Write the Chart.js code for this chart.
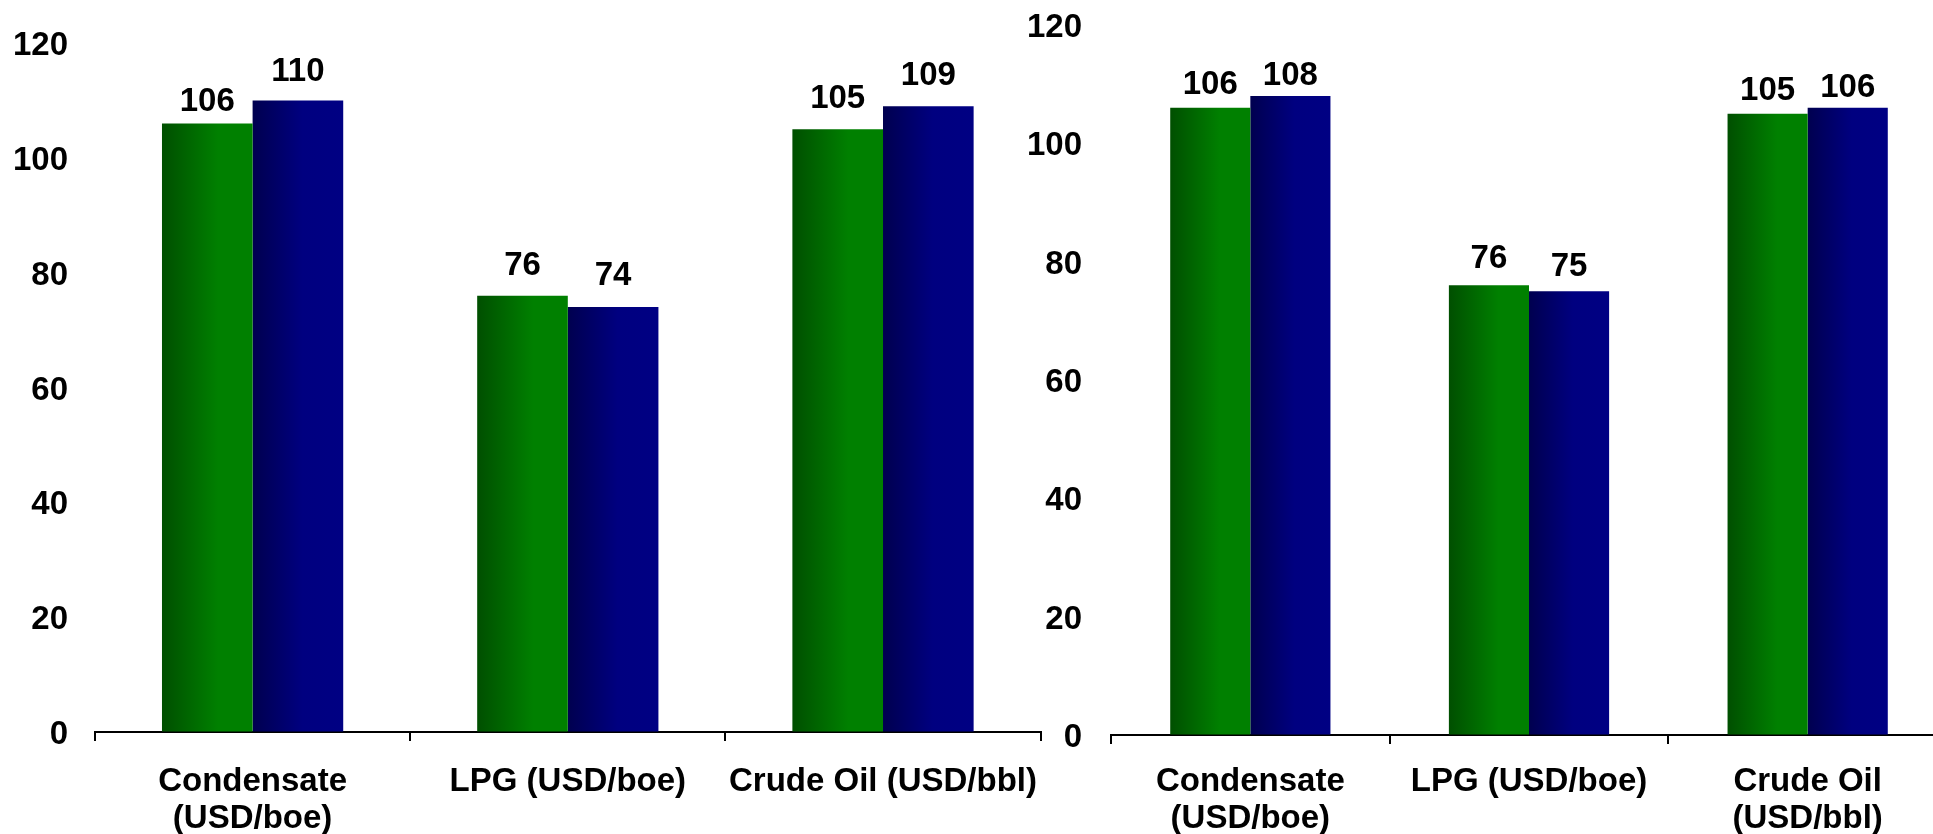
<!DOCTYPE html>
<html>
<head>
<meta charset="utf-8">
<script src="https://cdn.jsdelivr.net/npm/chart.js@4.4.1/dist/chart.umd.min.js"></script>
<style>
  html, body { margin: 0; padding: 0; background: #fff; overflow: hidden; }
  #wrap { position: relative; width: 1933px; height: 834px; overflow: hidden; }
  .box { position: absolute; top: 0; height: 834px; }
  #boxA { left: 0; width: 1060px; }
  #boxB { left: 1000px; width: 947px; }
</style>
</head>
<body>
<div id="wrap">
  <div class="box" id="boxA"><canvas id="chartA" width="1060" height="834"></canvas></div>
  <div class="box" id="boxB"><canvas id="chartB" width="947" height="834"></canvas></div>
</div>
<script>
// Price categories for each panel
const categoriesA = [['Condensate', '(USD/boe)'], 'LPG (USD/boe)', 'Crude Oil (USD/bbl)'];
const categoriesB = [['Condensate', '(USD/boe)'], 'LPG (USD/boe)', ['Crude Oil', '(USD/bbl)']];

// Left panel values
const greenA = [106, 76, 105];
const blueA = [110, 74, 109];

// Right panel values
const greenB = [106, 76, 105];
const blueB = [108, 75, 106];

// Value-axis ticks
const yTicks = [0, 20, 40, 60, 80, 100, 120];

const FONT = '"Liberation Sans", Arial, Helvetica, sans-serif';
const FONT_SIZE = 33;
const CAT_PCT = 0.575;
const BAR_PCT = 1.0;

const GREEN_STOPS = [[0, '#004f00'], [0.62, '#008000'], [1, '#008000']];
const BLUE_STOPS = [[0, '#00004f'], [0.55, '#000080'], [1, '#000083']];

// Horizontal shading across each bar, located from the category scale
function barFill(stops, side) {
  return (ctx) => {
    const chart = ctx.chart;
    const xs = chart.scales && chart.scales.x;
    if (ctx.type !== 'data' || !xs || !chart.chartArea) return stops[1][1];
    const n = chart.data.labels.length;
    const half = (xs.width / n) * CAT_PCT * BAR_PCT / 2;
    const c = xs.getPixelForValue(ctx.dataIndex);
    const x0 = side === 0 ? c - half : c;
    const g = chart.ctx.createLinearGradient(x0, 0, x0 + half, 0);
    stops.forEach(([o, col]) => g.addColorStop(o, col));
    return g;
  };
}

// Value labels above the bars; each label sits its own distance above its bar
const valueLabels = {
  id: 'valueLabels',
  afterDatasetsDraw(chart, args, opts) {
    const ctx = chart.ctx;
    const lift = opts.lift || [];
    ctx.save();
    ctx.font = 'bold ' + FONT_SIZE + 'px ' + FONT;
    ctx.fillStyle = '#000';
    ctx.textAlign = 'center';
    ctx.textBaseline = 'alphabetic';
    chart.data.datasets.forEach((ds, i) => {
      chart.getDatasetMeta(i).data.forEach((bar, j) => {
        const d = (lift[i] && lift[i][j] != null) ? lift[i][j] : 14;
        ctx.fillText(String(ds.data[j]), bar.x, bar.y - d);
      });
    });
    ctx.restore();
  }
};

function makeChart(id, labels, green, blue, geom) {
  return new Chart(document.getElementById(id), {
    type: 'bar',
    data: {
      labels: labels,
      datasets: [
        { data: green, backgroundColor: barFill(GREEN_STOPS, 0), borderWidth: 0,
          categoryPercentage: CAT_PCT, barPercentage: BAR_PCT },
        { data: blue, backgroundColor: barFill(BLUE_STOPS, 1), borderWidth: 0,
          categoryPercentage: CAT_PCT, barPercentage: BAR_PCT }
      ]
    },
    options: {
      responsive: false,
      maintainAspectRatio: false,
      devicePixelRatio: 1,
      animation: false,
      layout: { padding: { top: geom.top, right: 0, left: 0, bottom: 0 } },
      plugins: {
        legend: { display: false },
        tooltip: { enabled: false },
        valueLabels: { lift: geom.lift }
      },
      scales: {
        x: {
          grid: { display: true, drawOnChartArea: false, offset: true, color: '#000',
                  lineWidth: 2, tickLength: 9, tickWidth: 2 },
          border: { display: true, color: '#000', width: 2 },
          ticks: { color: '#000', padding: geom.xPad, maxRotation: 0, autoSkip: false,
                   font: { family: FONT, size: FONT_SIZE, weight: 'bold', lineHeight: 1.1 } },
          afterFit: (s) => { s.height = geom.xHeight; }
        },
        y: {
          min: 0, max: 120,
          // invisible tick marks keep the labels away from the plot edge
          grid: { display: true, drawOnChartArea: false, drawTicks: true,
                  tickLength: geom.yGap, color: 'rgba(0,0,0,0)' },
          border: { display: false },
          afterBuildTicks: (s) => { s.ticks = yTicks.map(v => ({ value: v })); },
          ticks: { color: '#000', padding: 0, labelOffset: 3,
                   font: { family: FONT, size: FONT_SIZE, weight: 'bold' } },
          afterFit: (s) => { s.width = geom.yWidth; }
        }
      }
    },
    plugins: [valueLabels]
  });
}

makeChart('chartA', categoriesA, greenA, blueA,
  { top: 43, xHeight: 102, xPad: 23, yGap: 27, yWidth: 95,
    lift: [[12, 21, 21], [19, 22, 21]] });
makeChart('chartB', categoriesB, greenB, blueB,
  { top: 25, xHeight: 99, xPad: 20, yGap: 29, yWidth: 111,
    lift: [[14, 17, 14], [11, 15, 11]] });
</script>
</body>
</html>
